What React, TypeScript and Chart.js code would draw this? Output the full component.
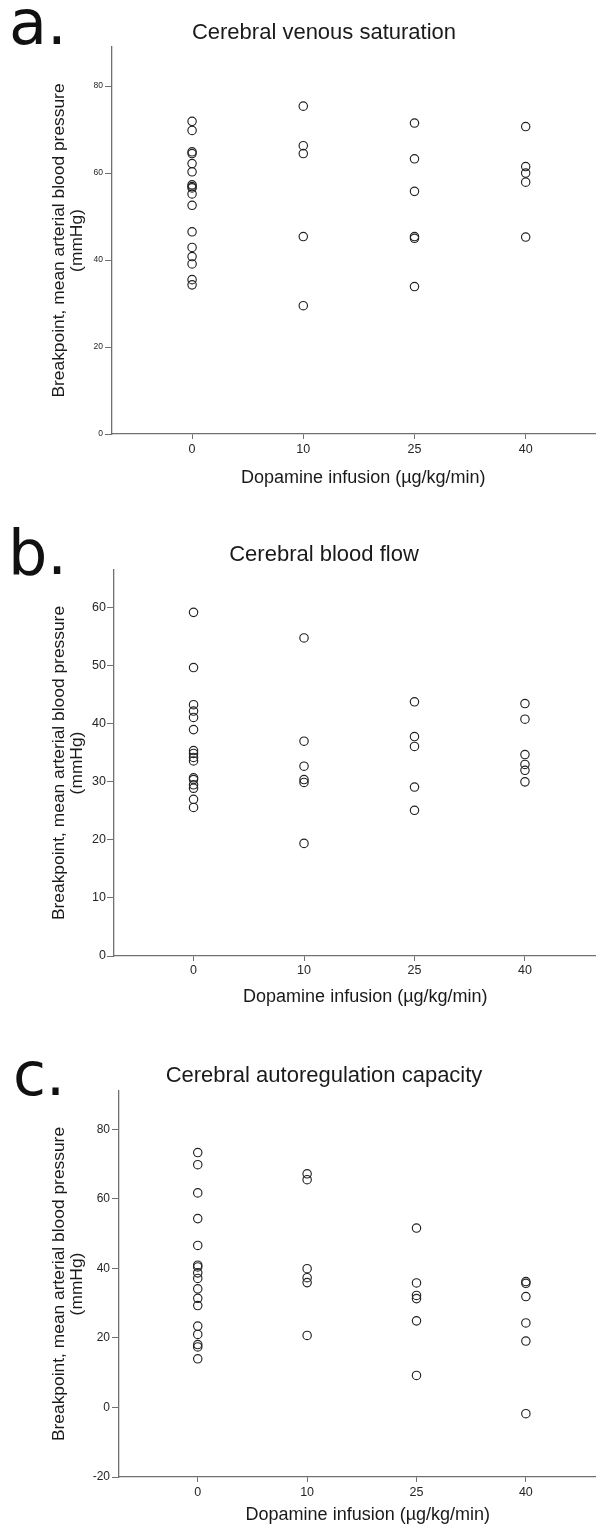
import React, { useEffect, useRef } from "react";
import { Chart, registerables } from "chart.js";

Chart.register(...registerables);

// Category labels (dopamine dose, µg/kg/min)
const doseLabels = ["0", "10", "25", "40"];

// Panel a: Cerebral venous saturation – breakpoints (mmHg) per dose group
const venousSat = [
  [71.9, 69.8, 64.9, 64.5, 62.2, 60.3, 57.3, 56.9, 56.6, 55.2, 52.6, 46.5, 42.9, 40.8, 39.1, 35.5, 34.3],
  [75.4, 66.3, 64.5, 45.4, 29.5],
  [71.5, 63.3, 55.8, 45.4, 45.0, 33.9],
  [70.7, 61.5, 60.0, 57.9, 45.3],
];
const venousTicks = [0, 20, 40, 60, 80];

// Panel b: Cerebral blood flow
const bloodFlow = [
  [59.2, 49.7, 43.3, 42.2, 41.1, 39.0, 35.4, 34.9, 34.2, 33.6, 30.7, 30.4, 29.5, 28.9, 27.0, 25.6],
  [54.8, 37.0, 32.7, 30.4, 29.9, 19.4],
  [43.8, 37.8, 36.1, 29.1, 25.1],
  [43.5, 40.8, 34.7, 33.0, 32.0, 30.0],
];
const flowTicks = [0, 10, 20, 30, 40, 50, 60];

// Panel c: Cerebral autoregulation capacity
const autoregulation = [
  [73.3, 69.8, 61.7, 54.3, 46.6, 40.9, 40.4, 38.7, 37.1, 34.1, 31.4, 29.3, 23.4, 21.0, 18.1, 17.4, 14.0],
  [67.2, 65.5, 39.9, 37.3, 35.9, 20.7],
  [51.6, 35.8, 32.2, 31.3, 24.9, 9.2],
  [36.2, 35.7, 31.9, 24.3, 19.1, -1.8],
];
const autoregTicks = [-20, 0, 20, 40, 60, 80];

const yTitle = ["Breakpoint, mean arterial blood pressure", "(mmHg)"];
const xTitle = "Dopamine infusion (µg/kg/min)";

const SANS = "'Liberation Sans', Arial, sans-serif";
const AXIS = "#707070";
const INK = "#1a1a1a";

type PanelProps = {
  top: number;
  height: number;
  width: number;
  values: number[][];
  yMin: number;
  yMax: number;
  yTicks: number[];
  areaTop: number;
  areaBottom: number;
  areaLeft: number;
  areaRight: number;
  xMin: number;
  xMax: number;
  yTickSize: number;
  yTickPad: number;
  xTickPad: number;
  xTitlePad: number;
  yTitlePad: number;
};

function Panel(p: PanelProps) {
  const ref = useRef<HTMLCanvasElement | null>(null);
  useEffect(() => {
    if (!ref.current) return;
    const points: { x: number; y: number }[] = [];
    p.values.forEach((group, i) => group.forEach((v) => points.push({ x: i, y: v })));
    const chart = new Chart(ref.current, {
      type: "scatter",
      data: {
        datasets: [
          {
            data: points,
            pointRadius: 4.2,
            pointHoverRadius: 4.2,
            pointBorderWidth: 1.15,
            borderColor: "#222",
            backgroundColor: "rgba(0,0,0,0)",
          },
        ],
      },
      options: {
        responsive: false,
        animation: false,
        devicePixelRatio: 1,
        events: [],
        layout: { padding: { top: p.areaTop, left: 0, bottom: 0, right: p.width - p.areaRight } },
        plugins: { legend: { display: false }, title: { display: false }, tooltip: { enabled: false } },
        scales: {
          x: {
            type: "linear",
            min: p.xMin,
            max: p.xMax,
            afterBuildTicks: (s: any) => {
              s.ticks = doseLabels.map((_, i) => ({ value: i }));
            },
            afterFit: (s: any) => {
              s.height = p.height - p.areaBottom;
            },
            ticks: {
              autoSkip: false,
              maxRotation: 0,
              minRotation: 0,
              padding: p.xTickPad,
              color: "#262626",
              font: { family: SANS, size: 12.5, lineHeight: 1.2 },
              callback: (v: any) => doseLabels[Number(v)] ?? "",
            },
            grid: { display: true, drawOnChartArea: false, drawTicks: true, tickLength: 5, color: AXIS, lineWidth: 1 },
            border: { display: true, color: AXIS, width: 1.3 },
            title: {
              display: true,
              text: xTitle,
              color: INK,
              font: { family: SANS, size: 18, lineHeight: 1 },
              padding: { top: 0, bottom: p.xTitlePad },
            },
          },
          y: {
            type: "linear",
            min: p.yMin,
            max: p.yMax,
            afterBuildTicks: (s: any) => {
              s.ticks = p.yTicks.map((v) => ({ value: v }));
            },
            afterFit: (s: any) => {
              s.width = p.areaLeft;
            },
            ticks: {
              padding: p.yTickPad,
              color: "#262626",
              font: { family: SANS, size: p.yTickSize, lineHeight: 1.2 },
              callback: (v: any) => String(v),
            },
            grid: { display: true, drawOnChartArea: false, drawTicks: true, tickLength: 7, color: AXIS, lineWidth: 1 },
            border: { display: true, color: AXIS, width: 1.3 },
            title: {
              display: true,
              text: yTitle,
              color: INK,
              font: { family: SANS, size: 17.4, lineHeight: 1 },
              padding: { top: p.yTitlePad, bottom: 0 },
            },
          },
        },
      },
    } as any);
    return () => chart.destroy();
  }, []);
  return (
    <div style={{ position: "absolute", left: 0, top: p.top, width: p.width, height: p.height }}>
      <canvas ref={ref} width={p.width} height={p.height} style={{ width: p.width, height: p.height, display: "block" }} />
    </div>
  );
}

function Letter({ text, left, top, size }: { text: string; left: number; top: number; size: number }) {
  return (
    <div
      style={{
        position: "absolute",
        left,
        top,
        fontFamily: "'DejaVu Sans', sans-serif",
        fontSize: size,
        lineHeight: `${size}px`,
        color: "#111",
        whiteSpace: "nowrap",
      }}
    >
      {text}
    </div>
  );
}

function PanelTitle({ text, top }: { text: string; top: number }) {
  return (
    <div
      style={{
        position: "absolute",
        left: 0,
        top,
        width: 648,
        textAlign: "center",
        fontFamily: SANS,
        fontSize: 22,
        lineHeight: "22px",
        color: INK,
        whiteSpace: "nowrap",
      }}
    >
      {text}
    </div>
  );
}

export default function App() {
  return (
    <div
      style={{
        position: "absolute",
        left: 0,
        top: 0,
        width: 596,
        height: 1530,
        overflow: "hidden",
        background: "#fff",
      }}
    >
      <Panel
        top={0}
        height={500}
        width={620}
        values={venousSat}
        yMin={0}
        yMax={89}
        yTicks={venousTicks}
        areaTop={47}
        areaBottom={434}
        areaLeft={112}
        areaRight={617}
        xMin={-0.72}
        xMax={3.8}
        yTickSize={8.5}
        yTickPad={2}
        xTickPad={3}
        xTitlePad={13}
        yTitlePad={51}
      />
      <Panel
        top={500}
        height={520}
        width={622}
        values={bloodFlow}
        yMin={0}
        yMax={66.5}
        yTicks={flowTicks}
        areaTop={70}
        areaBottom={456}
        areaLeft={114}
        areaRight={620}
        xMin={-0.72}
        xMax={3.83}
        yTickSize={12.5}
        yTickPad={1}
        xTickPad={2}
        xTitlePad={14}
        yTitlePad={51}
      />
      <Panel
        top={1020}
        height={510}
        width={622}
        values={autoregulation}
        yMin={-20}
        yMax={91}
        yTicks={autoregTicks}
        areaTop={71}
        areaBottom={457}
        areaLeft={119}
        areaRight={621}
        xMin={-0.72}
        xMax={3.83}
        yTickSize={12}
        yTickPad={2}
        xTickPad={3}
        xTitlePad={6}
        yTitlePad={51}
      />
      <Letter text="a." left={9} top={-8} size={62} />
      <Letter text="b." left={8} top={522} size={62} />
      <Letter text="c." left={13} top={1044} size={60} />
      <PanelTitle text="Cerebral venous saturation" top={21} />
      <PanelTitle text="Cerebral blood flow" top={543} />
      <PanelTitle text="Cerebral autoregulation capacity" top={1064} />
    </div>
  );
}
